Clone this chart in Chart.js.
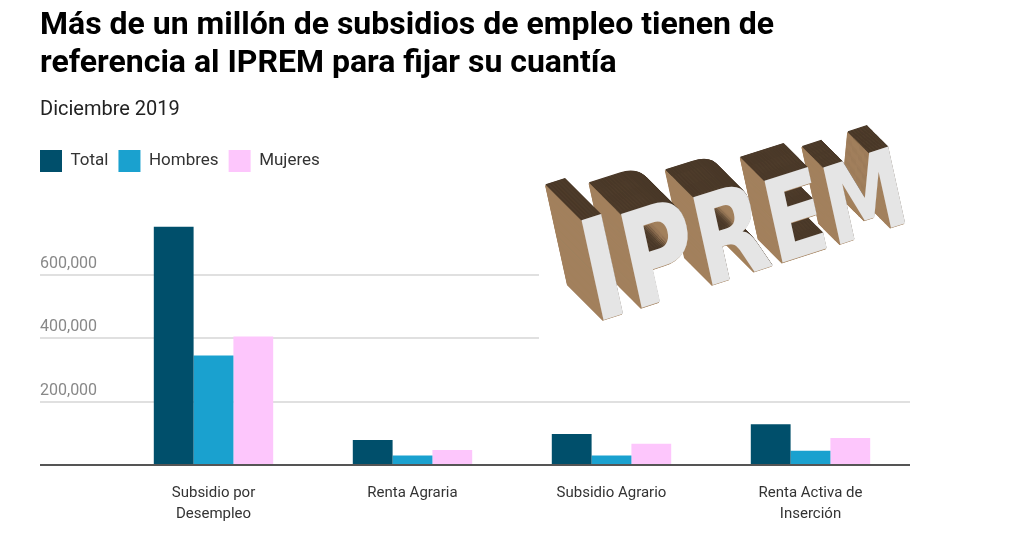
<!DOCTYPE html>
<html lang="es">
<head>
<meta charset="utf-8">
<script src="https://cdn.jsdelivr.net/npm/chart.js@4.4.0/dist/chart.umd.min.js"></script>
<style>
	html, body { margin: 0; padding: 0; background: #fff; }
	body { width: 1019px; height: 541px; position: relative; overflow: hidden; font-family: Roboto, sans-serif; }
	#titulo { position: absolute; left: 40px; top: 4px; margin: 0; font-size: 32px; line-height: 38px; font-weight: 700; color: #000; z-index: 2; }
	#subtitulo { position: absolute; left: 40px; top: 97px; margin: 0; font-size: 20px; line-height: 22px; color: #222; z-index: 2; }
	#grafico_wrap { position: absolute; left: 0; top: 0; width: 1019px; height: 541px; }
</style>
</head>
<body>
<h1 id="titulo">Más de un millón de subsidios de empleo tienen de<br>referencia al IPREM para fijar su cuantía</h1>
<p id="subtitulo">Diciembre 2019</p>
<div id="grafico_wrap"><canvas id="graficoSubsidios"></canvas></div>

<script>
// Datos
var categorias = [["Subsidio por", "Desempleo"], "Renta Agraria", "Subsidio Agrario", ["Renta Activa de", "Inserción"]];
var nomesSeries = ["Total", "Hombres", "Mujeres"];
var total = [752000, 79000, 98000, 129000];
var hombres = [346000, 30000, 30000, 45000];
var mujeres = [406000, 47000, 67000, 85000];
var ticksY = [0, 200000, 400000, 600000];
var letrasIprem = ["I", "P", "R", "E", "M"];

var coresSeries = ["#004f6b", "#1aa1cf", "#fdc6fc"];
var espacioLeyenda = 36;

// Da mais altura à legenda e encosta-a à margem esquerda
var ajusteLeyenda = {
	id: "ajusteLeyenda",
	beforeLayout(chart) {
		var leyenda = chart.legend;
		if (leyenda && !leyenda._ajustado) {
			var fitOriginal = leyenda.fit;
			leyenda.fit = function () {
				fitOriginal.call(this);
				this.height += espacioLeyenda;
			};
			leyenda._ajustado = true;
		}
	},
	afterLayout(chart) {
		if (chart.legend) {
			chart.legend.left -= 10;
		}
	},
};

// Letreiro 3D "IPREM" por cima das grelhas
var dibujoIprem = {
	id: "dibujoIprem",
	beforeDatasetsDraw(chart) {
		var ctx = chart.ctx;
		ctx.save();
		ctx.fillStyle = "#fff";
		ctx.fillRect(539, 118, 380, 234);

		var dpr = chart.currentDevicePixelRatio || 1;
		ctx.font = 'bold 140px "DejaVu Sans", "Liberation Sans", sans-serif';
		ctx.textBaseline = "alphabetic";

		var sx = 0.78;
		var ux = 0.952, uy = -0.305;
		var A = ux * sx, B = uy * sx, C = 0.215, D = 0.977;
		var fundo = 36;
		var escalas = [1.0, 0.94, 0.88, 0.82, 0.77];

		// posições ao longo da linha de base
		var pos = [];
		var px = 594, py = 323;
		for (var i = 0; i < letrasIprem.length; i++) {
			pos.push([px, py]);
			var w = ctx.measureText(letrasIprem[i]).width * sx * escalas[i];
			px += ux * w;
			py += uy * w;
		}

		for (var i = letrasIprem.length - 1; i >= 0; i--) {
			var s = escalas[i];
			var p = pos[i];
			var prof = fundo * s * s;
			var N = Math.ceil(prof * 3);
			var setT = function (t, ox, oy) {
				ctx.setTransform(
					dpr * A * s, dpr * B * s, dpr * C * s, dpr * D * s,
					dpr * (p[0] - t * prof + ox),
					dpr * (p[1] - t * prof + oy)
				);
			};
			// camadas de trás para a frente: topo escuro, lado castanho claro
			for (var k = N; k >= 1; k--) {
				setT(k / N, 0, 0);
				ctx.fillStyle = "#4a3929";
				ctx.fillText(letrasIprem[i], 0, 0);
				setT(k / N, -0.6, 1.2);
				ctx.fillStyle = "#a3815e";
				ctx.fillText(letrasIprem[i], 0, 0);
			}
			setT(0, 0, 0);
			ctx.fillStyle = "#e5e5e5";
			ctx.fillText(letrasIprem[i], 0, 0);
		}
		ctx.restore();
	},
};

var dataSubsidios = {
	labels: categorias,
	datasets: [
		{ label: nomesSeries[0], data: total, backgroundColor: coresSeries[0] },
		{ label: nomesSeries[1], data: hombres, backgroundColor: coresSeries[1] },
		{ label: nomesSeries[2], data: mujeres, backgroundColor: coresSeries[2] },
	],
};

var configSubsidios = {
	type: "bar",
	data: dataSubsidios,
	options: {
		responsive: true,
		maintainAspectRatio: false,
		animation: false,
		datasets: {
			bar: { categoryPercentage: 0.6, barPercentage: 1.0, borderWidth: 0 },
		},
		layout: { padding: { top: 140, left: 40, right: 109, bottom: -2 } },
		plugins: {
			tooltip: { enabled: false },
			title: { display: false },
			legend: {
				position: "top",
				align: "start",
				labels: {
					boxWidth: 22,
					boxHeight: 22,
					padding: 10,
					color: "#333",
					font: { family: "Roboto", size: 17 },
				},
			},
		},
		scales: {
			x: {
				grid: { display: false, drawTicks: false },
				border: { display: false },
				ticks: {
					color: "#333",
					font: { family: "Roboto", size: 15, lineHeight: 1.4 },
					padding: 18,
					maxRotation: 0,
					autoSkip: false,
				},
			},
			y: {
				min: 0,
				max: 780000,
				afterFit: function (escala) {
					escala.width = 74;
				},
				afterBuildTicks: function (escala) {
					escala.ticks = ticksY.map(function (v) { return { value: v }; });
				},
				border: { display: false },
				grid: {
					drawTicks: true,
					tickLength: 74,
					color: function (c) { return c.tick && c.tick.value === 0 ? "#555" : "#e0e0e0"; },
					lineWidth: 2,
				},
				ticks: {
					crossAlign: "far",
					labelOffset: -11,
					color: "#888",
					font: { family: "Roboto", size: 16 },
					callback: function (v) { return v === 0 ? "" : v.toLocaleString("en-US"); },
				},
			},
		},
	},
	plugins: [ajusteLeyenda, dibujoIprem],
};

var graficoSubsidios = new Chart(document.getElementById("graficoSubsidios"), configSubsidios);
</script>
</body>
</html>
